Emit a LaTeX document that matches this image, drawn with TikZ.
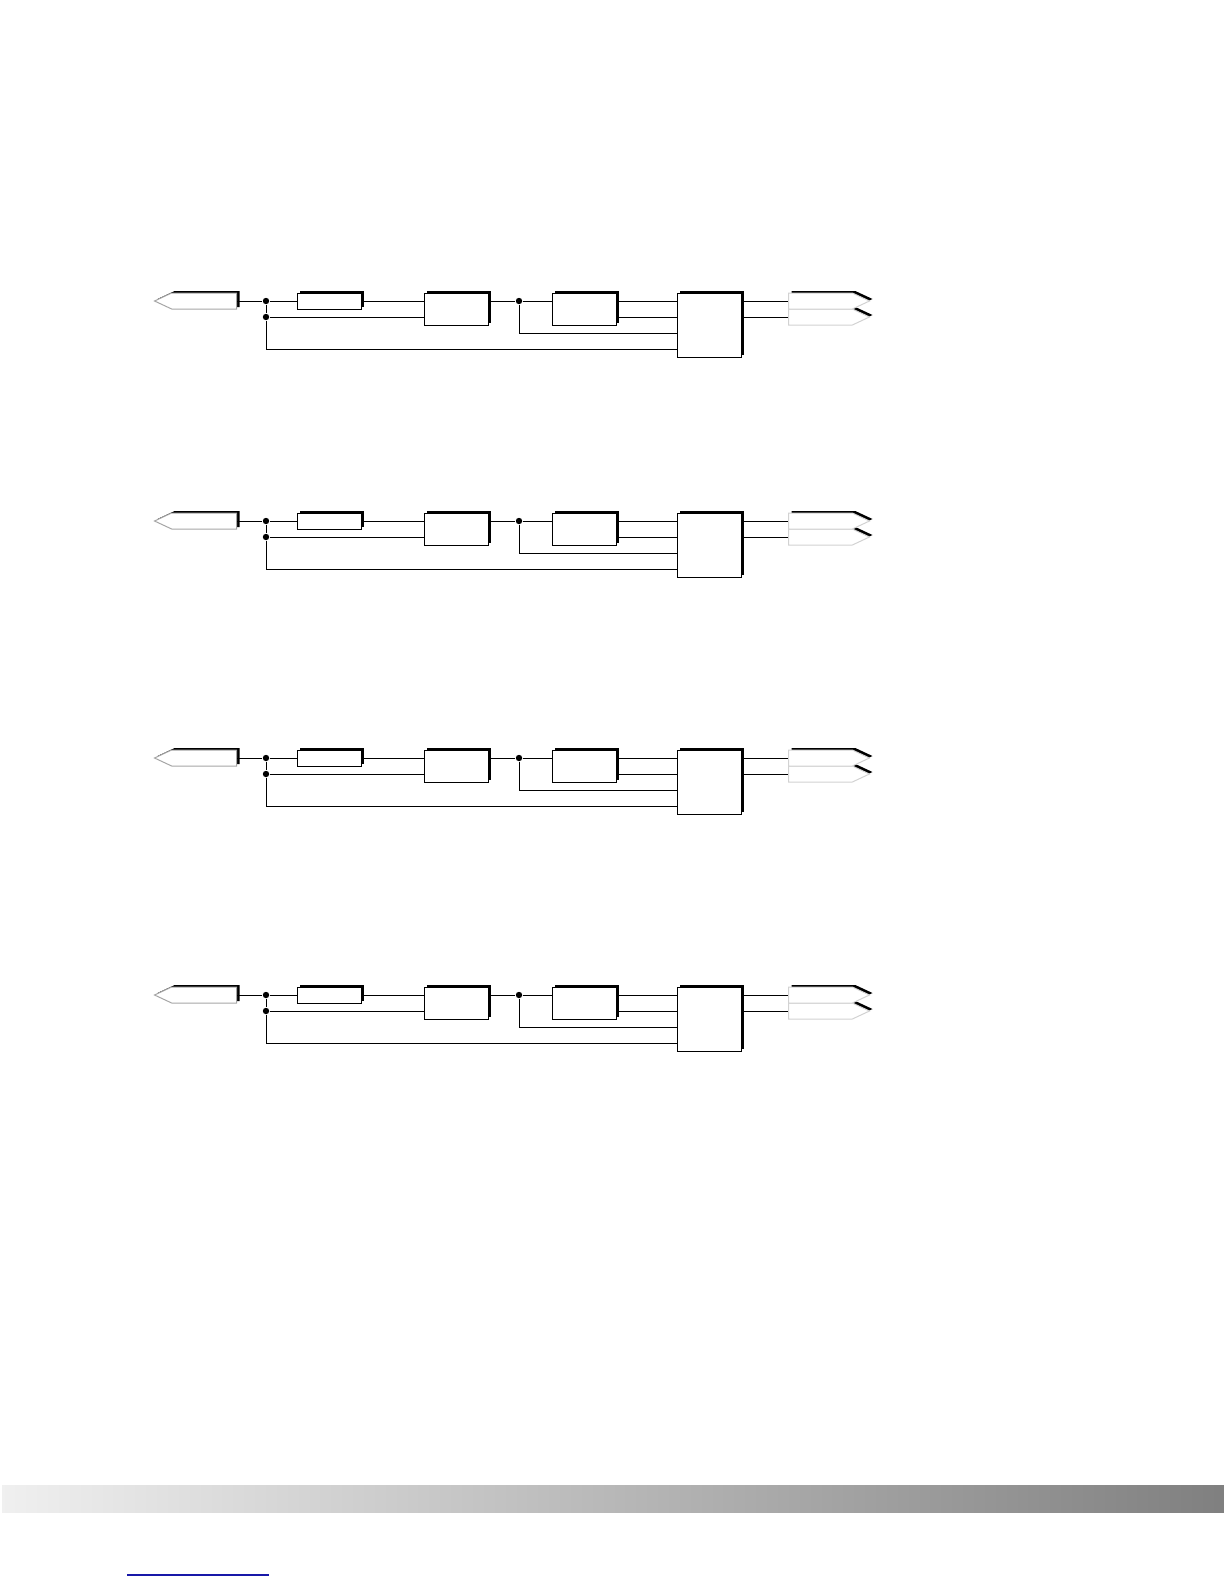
\documentclass[tikz,border=0pt]{standalone}
\usepackage{tikz}
\usepackage{xcolor}
\usetikzlibrary{shapes.symbols, shadows, calc, positioning}

\definecolor{linkblue}{RGB}{24,24,168}

\tikzset{
    boxshadow/.style={general shadow={fill=black, shadow xshift=1.5pt, shadow yshift=1pt}},
    blockbox/.style={draw, fill=white, line width=0.5pt, inner sep=0pt, boxshadow},
    portin/.style={signal, signal to=west, signal pointer angle=50, draw=gray!70, fill=white,
        line width=0.5pt, inner sep=0pt, minimum width=41pt, minimum height=8pt, boxshadow},
    portout/.style={portin, signal to=east, draw=gray!35, minimum width=40.5pt},
    junction/.style={circle, fill=black, inner sep=0pt, minimum size=3.2pt},
    wire/.style={line width=0.5pt}
}

\begin{document}
\begin{tikzpicture}[x=0.5pt, y=-0.5pt]
                        \useasboundingbox (0,0) rectangle (1224,1584);

                        \foreach \d/\y in {1/301, 2/521, 3/758, 4/995} {
                            \node[portin, anchor=east] (in\d) at (237,\y) {};
                            \node[junction] (ja\d) at (266,\y) {};
                            \node[junction] (jb\d) at (266,\y+16) {};
                            \node[blockbox, minimum width=32pt, minimum height=8pt] (lag\d) at (329,\y) {};
                            \node[blockbox, minimum width=32pt, minimum height=16pt] (flt\d) at (456,\y+8) {};
                            \node[junction] (jc\d) at (519,\y) {};
                            \node[blockbox, minimum width=32pt, minimum height=16pt] (cmp\d) at (584,\y+8) {};
                            \node[blockbox, minimum width=32pt, minimum height=32pt] (mix\d) at (709,\y+24) {};
                            \node[portout, anchor=west] (outb\d) at (788,\y+16) {};
                            \node[portout, anchor=west] (outa\d) at (788,\y) {};
                            \coordinate (fb\d) at (mix\d.west |- {(0,\y+32)});
                            \coordinate (fa\d) at (mix\d.west |- {(0,\y+48)});

                            \draw[wire]
                            (in\d.east) -- (ja\d) -- (lag\d.west)
                            (lag\d.east) -- (lag\d.east -| flt\d.west)
                            (ja\d) -- (jb\d) -- (jb\d -| flt\d.west)
                            (jb\d) |- (fa\d)
                            (jc\d -| flt\d.east) -- (jc\d) -- (jc\d -| cmp\d.west)
                            (jc\d) |- (fb\d)
                            (cmp\d.east |- ja\d) -- (ja\d -| mix\d.west)
                            (cmp\d.east |- jb\d) -- (jb\d -| mix\d.west)
                            (mix\d.east |- ja\d) -- (outa\d.west)
                            (mix\d.east |- jb\d) -- (outb\d.west);
                        }

                        \shade[left color=black!6, right color=black!50] (2,1485) rectangle (1224,1512);
                        \draw[linkblue, line width=0.75pt] (127,1575) -- (269,1575);
                    \end{tikzpicture}
\end{document}
